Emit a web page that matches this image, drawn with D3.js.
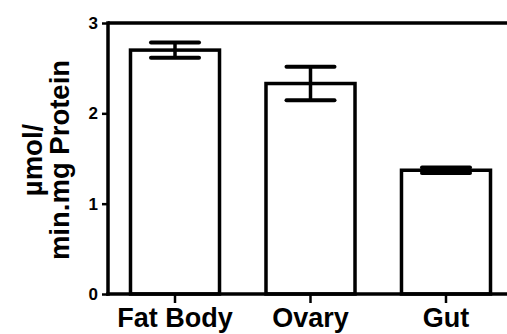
<!DOCTYPE html>
<html>
<head>
<meta charset="utf-8">
<script src="https://cdn.jsdelivr.net/npm/d3@7"></script>
<style>
  body { margin: 0; background: #fff; }
  svg { display: block; }
  text { font-family: "Liberation Sans", Arial, sans-serif; font-weight: bold; fill: #000; }
</style>
</head>
<body>
<script>
const w = 507;
const h = 334;

// data
var tissues = ["Fat Body", "Ovary", "Gut"];
var means = [2.70, 2.33, 1.37];
var sems = [0.085, 0.185, 0.03];
var yTicks = [0, 1, 2, 3];

const svg = d3.select("body")
              .append("svg")
              .attr("width", w)
              .attr("height", h);

const x = d3.scaleBand()
            .domain(tissues)
            .range([108, 513])
            .paddingInner(0.343)
            .paddingOuter(0.166);

const y = d3.scaleLinear()
            .domain([0, 3])
            .range([294, 23]);

const data = tissues.map((t, i) => [t, means[i], sems[i]]);

// bars
svg.selectAll("rect.bar")
   .data(data)
   .enter()
   .append("rect")
   .attr("class", "bar")
   .attr("x", d => x(d[0]))
   .attr("y", d => y(d[1]))
   .attr("width", x.bandwidth())
   .attr("height", d => y(0) - y(d[1]))
   .style("fill", "#fff")
   .style("stroke", "#000")
   .style("stroke-width", 3.5);

// error bars
const cx = d => x(d[0]) + x.bandwidth() / 2;
svg.selectAll("line.stem")
   .data(data)
   .enter()
   .append("line")
   .attr("x1", cx).attr("x2", cx)
   .attr("y1", d => y(d[1] + d[2]))
   .attr("y2", d => y(d[1] - d[2]))
   .style("stroke", "#000")
   .style("stroke-width", 3.5);

[1, -1].forEach(s => {
  svg.selectAll("line.cap" + s)
     .data(data)
     .enter()
     .append("line")
     .attr("x1", d => cx(d) - 24)
     .attr("x2", d => cx(d) + 24)
     .attr("y1", d => y(d[1] + s * d[2]))
     .attr("y2", d => y(d[1] + s * d[2]))
     .style("stroke", "#000")
     .style("stroke-width", 4)
     .style("stroke-linecap", "round");
});

// top frame line
svg.append("line")
   .attr("x1", 108).attr("x2", 513)
   .attr("y1", y(3)).attr("y2", y(3))
   .style("stroke", "#000")
   .style("stroke-width", 3.5);

// y axis
const yAxis = svg.append("g")
   .attr("transform", "translate(108,0)")
   .call(d3.axisLeft(y).tickValues(yTicks).tickFormat(d3.format("d")).tickSize(6).tickPadding(4));
yAxis.attr("font-size", 17).attr("font-family", null);
yAxis.select(".domain").style("stroke-width", 3.5).attr("d", "M0," + (y(0) + 1.75) + "V" + (y(3) - 1.75));
yAxis.selectAll(".tick line").style("stroke-width", 2.5);

// x axis
const xAxis = svg.append("g")
   .attr("transform", "translate(0," + y(0) + ")")
   .call(d3.axisBottom(x).tickSize(9).tickPadding(5));
xAxis.attr("font-size", 27).attr("font-family", null);
xAxis.select(".domain").style("stroke-width", 3.5).attr("d", "M106.25,0H513");
xAxis.selectAll(".tick line").style("stroke-width", 2.5);

// y label
const yl = svg.append("text")
   .attr("transform", "translate(0,160) rotate(-90)")
   .attr("text-anchor", "middle")
   .style("font-size", "27.5px");
yl.append("tspan").attr("x", 0).attr("y", 42).text("µmol/");
yl.append("tspan").attr("x", 0).attr("y", 69).text("min.mg Protein");
</script>
</body>
</html>
